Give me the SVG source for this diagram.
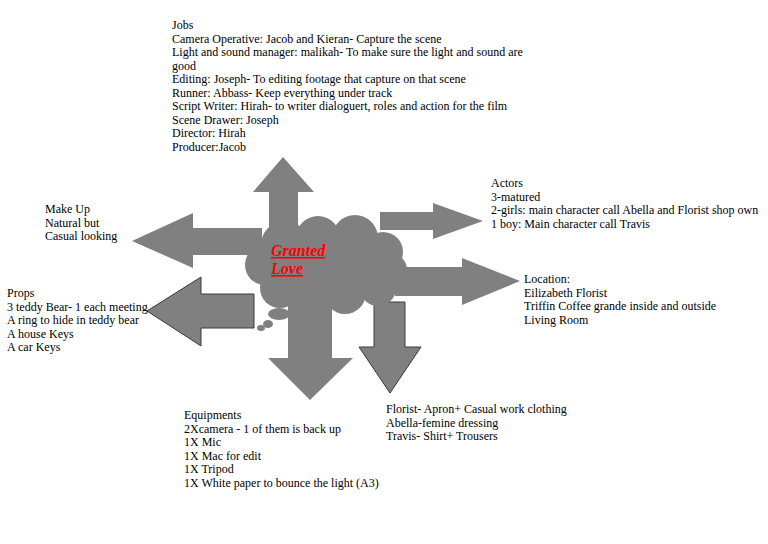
<svg xmlns="http://www.w3.org/2000/svg" width="768" height="544" viewBox="0 0 768 544">
<style>
.t{font-family:"Liberation Serif","Times New Roman",serif;font-size:12px;fill:#000}
.a{fill:#808080}
.ao{fill:#808080;stroke:#3a3a3a;stroke-width:1}
.c{fill:#808080}
.title{font-family:"Liberation Serif","Times New Roman",serif;font-size:16px;font-weight:bold;font-style:italic;fill:#ff0000;text-decoration:underline}
</style>
<rect width="768" height="544" fill="#fff"/>
<g id="connectors">
<polygon class="a" points="283,157 314,192 298,192 298,240 269,240 269,192 253,192"/>
<polygon class="a" points="132,241 193,213 193,228 262,228 262,255 193,255 193,268"/>
<polygon class="ao" points="147,311 201,277 201,294 254,294 254,328 201,328 201,346"/>
<polygon class="a" points="483,221 433,203 433,212 380,212 380,230 433,230 433,239"/>
<polygon class="a" points="520,281 462,258 462,267 395,267 395,296 462,296 462,305"/>
<polygon class="a" points="310,400 268,358 288,358 288,300 332,300 332,358 353,358"/>
<polygon class="ao" points="390,393 359,347 374,347 374,302 405,302 405,347 421,347"/>
</g>
<g id="center">
<g class="c">
<ellipse cx="325" cy="265" rx="62" ry="34"/>
<circle cx="285" cy="245" r="24"/>
<circle cx="318" cy="238" r="22"/>
<circle cx="355" cy="238" r="23"/>
<circle cx="383" cy="252" r="20"/>
<circle cx="390" cy="270" r="17"/>
<circle cx="378" cy="288" r="18"/>
<circle cx="345" cy="293" r="21"/>
<circle cx="310" cy="292" r="20"/>
<circle cx="280" cy="288" r="20"/>
<circle cx="265" cy="265" r="20"/>
<ellipse cx="279" cy="314" rx="11" ry="6"/>
<ellipse cx="268" cy="324" rx="5" ry="4"/>
<ellipse cx="261" cy="328" rx="4" ry="3"/>
</g>
<text class="title" x="271" y="256">Granted</text>
<text class="title" x="271" y="274">Love</text>
</g>
<g id="jobs">
<text class="t" x="172" y="29">Jobs</text>
<text class="t" x="172" y="42.5">Camera Operative: Jacob and Kieran- Capture the scene</text>
<text class="t" x="172" y="56">Light and sound manager: malikah- To make sure the light and sound are</text>
<text class="t" x="172" y="69.5">good</text>
<text class="t" x="172" y="83">Editing: Joseph- To editing footage that capture on that scene</text>
<text class="t" x="172" y="96.5">Runner: Abbass- Keep everything under track</text>
<text class="t" x="172" y="110">Script Writer: Hirah- to writer dialoguert, roles and action for the film</text>
<text class="t" x="172" y="123.5">Scene Drawer: Joseph</text>
<text class="t" x="172" y="137">Director: Hirah</text>
<text class="t" x="172" y="150.5">Producer:Jacob</text>
</g>
<g id="makeup">
<text class="t" x="45" y="213">Make Up</text>
<text class="t" x="45" y="226.5">Natural but</text>
<text class="t" x="45" y="240">Casual looking</text>
</g>
<g id="props">
<text class="t" x="7" y="297">Props</text>
<text class="t" x="7" y="310.5">3 teddy Bear- 1 each meeting</text>
<text class="t" x="7" y="324">A ring to hide in teddy bear</text>
<text class="t" x="7" y="337.5">A house Keys</text>
<text class="t" x="7" y="351">A car Keys</text>
</g>
<g id="actors">
<text class="t" x="491" y="187">Actors</text>
<text class="t" x="491" y="200.5">3-matured</text>
<text class="t" x="491" y="214">2-girls: main character call Abella and Florist shop own</text>
<text class="t" x="491" y="227.5">1 boy: Main character call Travis</text>
</g>
<g id="location">
<text class="t" x="524" y="283">Location:</text>
<text class="t" x="524" y="296.5">Eilizabeth Florist</text>
<text class="t" x="524" y="310">Triffin Coffee grande inside and outside</text>
<text class="t" x="524" y="323.5">Living Room</text>
</g>
<g id="equipments">
<text class="t" x="184" y="419">Equipments</text>
<text class="t" x="184" y="432.5">2Xcamera - 1 of them is back up</text>
<text class="t" x="184" y="446">1X Mic</text>
<text class="t" x="184" y="459.5">1X Mac for edit</text>
<text class="t" x="184" y="473">1X Tripod</text>
<text class="t" x="184" y="486.5">1X White paper to bounce the light (A3)</text>
</g>
<g id="costume">
<text class="t" x="386" y="413">Florist- Apron+ Casual work clothing</text>
<text class="t" x="386" y="426.5">Abella-femine dressing</text>
<text class="t" x="386" y="440">Travis- Shirt+ Trousers</text>
</g>
</svg>
